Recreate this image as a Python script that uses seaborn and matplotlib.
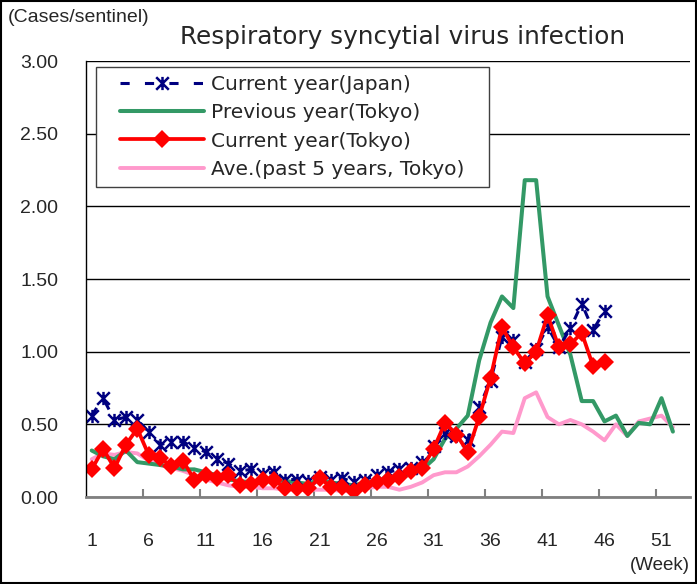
import matplotlib
matplotlib.use("Agg")
import matplotlib.pyplot as plt
from matplotlib.path import Path
from matplotlib.patches import Rectangle
import seaborn as sns

# weekly values (cases per sentinel)
weeks_prev = list(range(1, 53))
weeks_cur = list(range(1, 47))

japan_cur = [0.56, 0.68, 0.53, 0.55, 0.53, 0.45, 0.36, 0.38, 0.38, 0.34,
             0.31, 0.26, 0.23, 0.18, 0.19, 0.16, 0.17, 0.12, 0.12, 0.11,
             0.14, 0.12, 0.13, 0.10, 0.12, 0.15, 0.17, 0.19, 0.20, 0.24,
             0.35, 0.44, 0.42, 0.39, 0.62, 0.80, 1.10, 1.08, 0.93, 1.02,
             1.17, 1.03, 1.16, 1.33, 1.15, 1.28]

tokyo_prev = [0.32, 0.28, 0.26, 0.32, 0.24, 0.23, 0.22, 0.21, 0.19, 0.19,
              0.17, 0.15, 0.12, 0.11, 0.10, 0.11, 0.12, 0.11, 0.10, 0.09,
              0.12, 0.10, 0.09, 0.08, 0.10, 0.11, 0.12, 0.13, 0.16, 0.19,
              0.26, 0.40, 0.47, 0.56, 0.94, 1.20, 1.38, 1.30, 2.18, 2.18,
              1.38, 1.18, 0.98, 0.66, 0.66, 0.52, 0.56, 0.42, 0.51, 0.50,
              0.68, 0.45]

tokyo_cur = [0.19, 0.33, 0.20, 0.36, 0.47, 0.29, 0.27, 0.21, 0.25, 0.12,
             0.15, 0.13, 0.15, 0.08, 0.09, 0.12, 0.12, 0.06, 0.06, 0.06,
             0.13, 0.07, 0.07, 0.04, 0.08, 0.10, 0.12, 0.14, 0.18, 0.20,
             0.33, 0.51, 0.43, 0.31, 0.55, 0.82, 1.17, 1.03, 0.92, 1.00,
             1.25, 1.03, 1.05, 1.13, 0.90, 0.93]

tokyo_ave5 = [0.26, 0.30, 0.29, 0.31, 0.30, 0.25, 0.22, 0.20, 0.18, 0.15,
              0.12, 0.10, 0.08, 0.07, 0.07, 0.06, 0.06, 0.05, 0.05, 0.05,
              0.05, 0.05, 0.04, 0.04, 0.06, 0.07, 0.07, 0.05, 0.07, 0.10,
              0.15, 0.17, 0.17, 0.21, 0.28, 0.36, 0.45, 0.44, 0.68, 0.72,
              0.55, 0.50, 0.53, 0.50, 0.45, 0.39, 0.50, 0.42, 0.52, 0.54,
              0.56, 0.48]

week_labels = [1, 6, 11, 16, 21, 26, 31, 36, 41, 46, 51]
y_ticks = [0.0, 0.5, 1.0, 1.5, 2.0, 2.5, 3.0]

sns.set_style("white")
plt.rcParams['font.family'] = ['DejaVu Sans']
narrow = ['Liberation Sans Narrow', 'Liberation Sans', 'DejaVu Sans']

# asterisk marker like the spreadsheet one (X with a vertical bar)
star = Path([(-1, -1), (1, 1), (-1, 1), (1, -1), (0, -1.05), (0, 1.05)],
            [Path.MOVETO, Path.LINETO, Path.MOVETO, Path.LINETO, Path.MOVETO, Path.LINETO])

fig = plt.figure(figsize=(6.97, 5.84), dpi=100)
ax = fig.add_axes([86 / 697, 1 - 497 / 584, 604 / 697, 436 / 584])

sns.lineplot(x=weeks_prev, y=tokyo_ave5, ax=ax, color='#FF99CC', linewidth=2.8,
             label='Ave.(past 5 years, Tokyo)')
sns.lineplot(x=weeks_prev, y=tokyo_prev, ax=ax, color='#339966', linewidth=2.9,
             label='Previous year(Tokyo)')
sns.lineplot(x=weeks_cur, y=japan_cur, ax=ax, color='#000080', linewidth=2.2,
             linestyle=(0, (3, 5)), marker=star, markersize=9.5, markeredgewidth=1.8,
             markerfacecolor='none', markeredgecolor='#000080',
             label='Current year(Japan)')
sns.lineplot(x=weeks_cur, y=tokyo_cur, ax=ax, color='#FF0000', linewidth=2.7,
             marker='D', markersize=9, markeredgewidth=0,
             label='Current year(Tokyo)')

ax.set_xlim(0.5, 53.5)
ax.set_ylim(0, 3)
ax.set_xlabel('')
ax.set_ylabel('')

ax.set_xticks(week_labels)
ax.set_xticklabels([str(w) for w in week_labels], family=narrow, fontsize=14)
ax.set_xticks([w - 0.5 for w in week_labels[1:]], minor=True)
ax.tick_params(axis='x', which='major', length=0, pad=26)
ax.tick_params(axis='x', which='minor', direction='in', length=6, width=1.5,
               color='#808080', bottom=True)

ax.set_yticks(y_ticks)
ax.set_yticklabels(['%.2f' % v for v in y_ticks], family=narrow, fontsize=14)
ax.tick_params(axis='y', length=0, pad=20)

ax.yaxis.grid(True, color='black', linewidth=1)
ax.xaxis.grid(False)
ax.set_axisbelow(True)
for s in ['top', 'right']:
    ax.spines[s].set_visible(False)
ax.spines['left'].set_color('black')
ax.spines['left'].set_linewidth(1)
ax.spines['bottom'].set_color('#808080')
ax.spines['bottom'].set_linewidth(2)

handles, labels = ax.get_legend_handles_labels()
order = [2, 1, 3, 0]
leg = ax.legend([handles[i] for i in order], [labels[i] for i in order],
                loc='upper left', bbox_to_anchor=(0.056, 0.967), frameon=False,
                fontsize=14.5, handlelength=4.2, handletextpad=0.35,
                labelspacing=0.45, borderpad=0, borderaxespad=0, numpoints=1)

# legend box with wider side padding than matplotlib allows
fig.canvas.draw()
bb = leg.get_window_extent().transformed(fig.transFigure.inverted())
padx, pady = 24 / 697, 8 / 584
fig.patches.append(Rectangle((bb.x0 - padx, bb.y0 - pady), bb.width + 2 * padx,
                             bb.height + 2 * pady, transform=fig.transFigure,
                             facecolor='white', edgecolor='#404040', linewidth=1,
                             zorder=9, figure=fig))
leg.remove()
fig.legends.append(leg)
leg.set_zorder(11)

fig.text(403 / 697, 1 - 37 / 584, 'Respiratory syncytial virus infection',
         ha='center', va='center', fontsize=17.8)
fig.text(8 / 697, 1 - 17 / 584, '(Cases/sentinel)', ha='left', va='center',
         family=narrow, fontsize=14)
fig.text(690 / 697, 1 - 565 / 584, '(Week)', ha='right', va='center',
         family=narrow, fontsize=13.5)

# outer frame
fig.patches.append(Rectangle((0.001, 0.001), 0.997, 0.997, transform=fig.transFigure,
                             fill=False, edgecolor='black', linewidth=1.5, figure=fig))

fig.savefig('out.png', dpi=100)
